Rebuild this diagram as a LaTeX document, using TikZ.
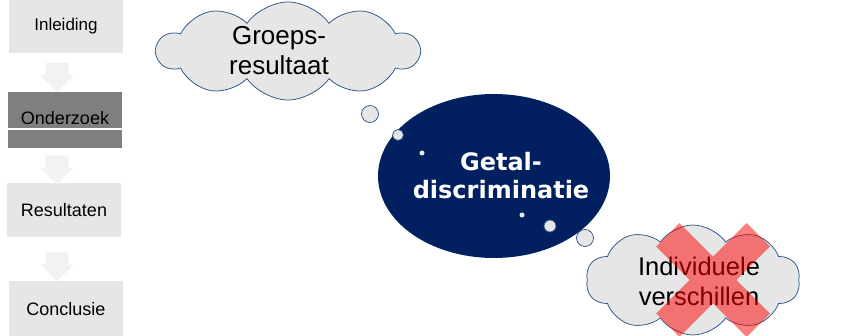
\documentclass[tikz,border=0pt]{standalone}
\usepackage{fontspec}
\setmainfont{Liberation Sans}
\newfontfamily\boldwide{DejaVu Sans}
\usepackage{tikz}
\usetikzlibrary{shapes.symbols, shapes.arrows, shapes.geometric}

\definecolor{stepgray}{HTML}{E6E6E6}
\definecolor{arrowgray}{HTML}{F2F2F2}
\definecolor{activegray}{HTML}{7F7F7F}
\definecolor{navy}{HTML}{022060}
\definecolor{cloudline}{HTML}{2A5584}

\begin{document}
\begin{tikzpicture}[x=1pt, y=-1pt,
    stepbox/.style={shape=rectangle, fill=stepgray, minimum width=114pt, minimum height=54pt, inner sep=0pt, font=\fontsize{18}{20}\selectfont},
    stepdown/.style={shape=single arrow, fill=arrowgray, rotate=270, single arrow head extend=5pt, inner xsep=0pt, inner ysep=11.5pt, minimum height=29pt},
    thought/.style={shape=cloud, cloud puffs=10, cloud puff arc=110, aspect=2.6, fill=stepgray, draw=cloudline, line width=0.75pt, inner sep=0pt},
    bubble/.style={shape=circle, fill=stepgray, draw=cloudline, line width=0.75pt, inner sep=0pt},
    crossbar/.style={shape=rectangle, fill=red, minimum width=128pt, minimum height=33pt, inner sep=0pt},
]

\useasboundingbox (0,0) rectangle (861,336);

% left column
\node[stepbox, font=\fontsize{17}{18}\selectfont] (inl) at (66,26) {Inleiding};
\node[stepbox, fill=activegray, minimum height=56pt] (ond) at (65,120) {};
\node[stepbox] (res) at (64,210) {Resultaten};
\node[stepbox, minimum height=56pt] (con) at (66,309) {Conclusie};
\node[font=\fontsize{18}{20}\selectfont] (ondtxt) at (65,118) {Onderzoek};
\draw[white, line width=1.2pt] (ond.west |- 0,129) -- (ond.east |- 0,129);
\node[stepdown] (a1) at (57,71.5) {};
\node[stepdown] (a2) at (57,164) {};
\node[stepdown] (a3) at (57,261) {};

% thought clouds
\node[thought, minimum width=262pt, minimum height=98pt] (groep) at (288,51) {};
\node[align=center, font=\fontsize{26}{30}\selectfont] (groeptxt) at (279,51) {Groeps-\\resultaat};

\node[shape=ellipse, fill=navy, minimum width=232pt, minimum height=164pt] (getal) at (494,176) {};
\node[align=center, text=white, font=\boldwide\bfseries\fontsize{24}{28}\selectfont] (getaltxt) at (501,176) {Getal-\\discriminatie};

\node[bubble, minimum size=17pt] (b1) at (370,114) {};
\node[bubble, minimum size=11pt] (b2) at (398,135) {};
\node[bubble, minimum size=5pt, draw=none] (b3) at (422,153) {};
\node[bubble, minimum size=5pt, draw=none] (b4) at (522,215) {};
\node[bubble, minimum size=12pt] (b5) at (550,226) {};
\node[bubble, minimum size=17pt] (b6) at (585,238) {};

\node[thought, minimum width=214pt, minimum height=110pt] (indiv) at (693,280) {};
\node[align=center, font=\fontsize{25.5}{30}\selectfont] (indivtxt) at (699,281) {Individuele\\verschillen};

% red cross
\begin{scope}[transparency group, opacity=0.5]
\node[crossbar, rotate=45] (x1) at (713,280) {};
\node[crossbar, rotate=-45] (x2) at (713,280) {};
\end{scope}
\end{tikzpicture}
\end{document}
